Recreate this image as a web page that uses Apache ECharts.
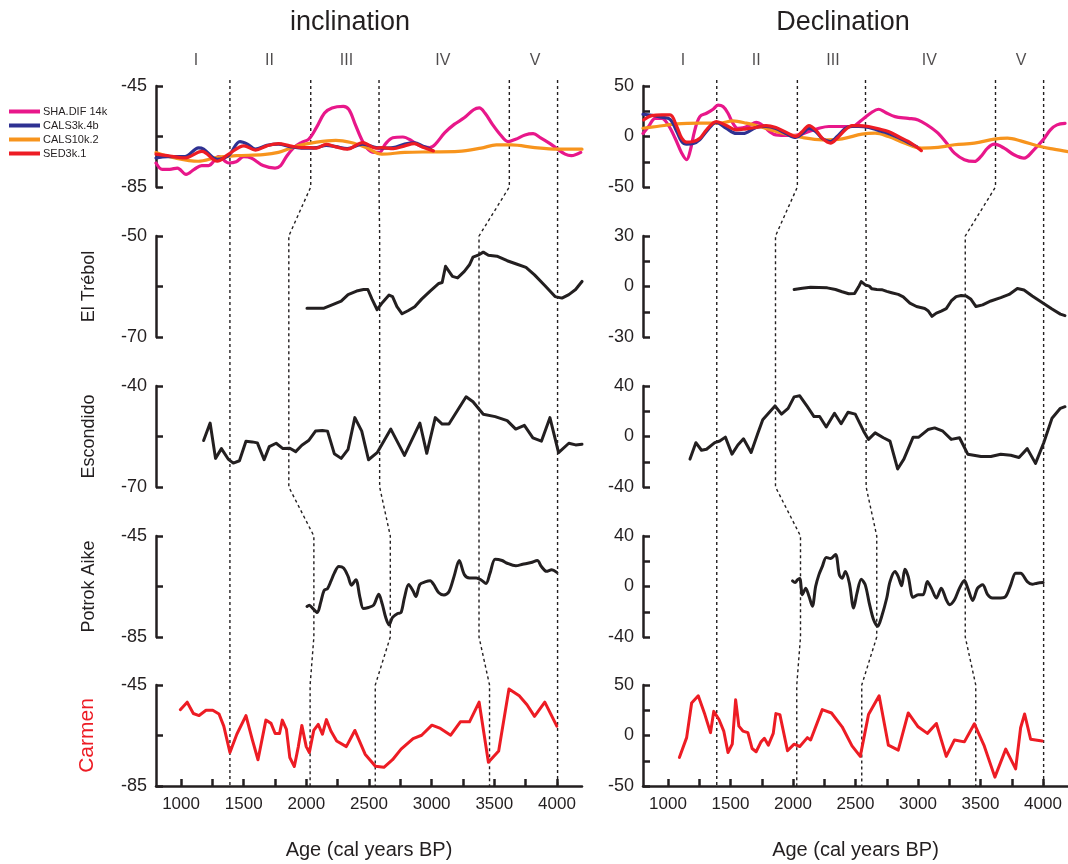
<!DOCTYPE html>
<html>
<head>
<meta charset="utf-8">
<script src="https://cdn.jsdelivr.net/npm/echarts@6/dist/echarts.min.js"></script>
<style>
  html, body { margin: 0; padding: 0; background: #ffffff; }
  #chart { width: 1068px; height: 864px; }
</style>
</head>
<body>
<div id="chart"></div>
<script>
// ---------- age axis ----------
const ageMin = 800, ageMax = 4200;
const ageTicks = [1000, 1250, 1500, 1750, 2000, 2250, 2500, 2750, 3000, 3250, 3500, 3750, 4000];
const ageLabels = [1000, 1500, 2000, 2500, 3000, 3500, 4000];

// ---------- geomagnetic field models (row 1) ----------
const modelNames = ['SHA.DIF 14k', 'CALS3k.4b', 'CALS10k.2', 'SED3k.1'];

const incSHA = [[800,-75.5],[850,-78],[910,-78],[970,-77.5],[1040,-80],[1105,-78],[1165,-76.5],[1220,-76.5],[1300,-73],[1380,-75.5],[1440,-75],[1500,-73],[1560,-73.5],[1655,-76.5],[1750,-77.5],[1795,-76.5],[1840,-73],[1900,-69.4],[1960,-67.4],[2020,-66],[2080,-61.5],[2145,-55.7],[2205,-53.7],[2295,-53.1],[2340,-54.4],[2390,-60.2],[2435,-65.5],[2480,-69.4],[2540,-71.3],[2585,-71.3],[2630,-68],[2690,-65.5],[2770,-65.2],[2845,-66.8],[2905,-68.7],[2985,-69.4],[3030,-68],[3105,-63.5],[3180,-60.2],[3260,-57.6],[3335,-54.4],[3380,-53.7],[3425,-55.7],[3485,-60.2],[3550,-64.4],[3610,-67],[3670,-66.1],[3745,-64.4],[3810,-63.9],[3870,-65.5],[3945,-67.8],[4005,-70],[4065,-72],[4115,-72.6],[4190,-71.3]];
const incCALS3k = [[800,-73.5],[892,-73],[1029,-73],[1140,-69.5],[1180,-70],[1289,-74],[1380,-72.5],[1470,-67],[1530,-68],[1594,-70],[1685,-68.5],[1777,-68],[1869,-69],[1960,-69.6],[2021,-69.6],[2082,-69.4],[2159,-68.5],[2235,-69],[2327,-69.8],[2449,-68],[2556,-69.4],[2602,-69.6],[2693,-69.4],[2785,-68],[2861,-67.5],[2937,-69],[2990,-70]];
const incCALS10k = [[800,-71.3],[953,-73.5],[1136,-74.8],[1289,-73.3],[1441,-72.6],[1655,-72.2],[1777,-71.3],[1930,-68.7],[2082,-67.2],[2235,-66.5],[2357,-67.4],[2479,-69.4],[2602,-72.0],[2785,-71.3],[2998,-71.1],[3212,-70.9],[3395,-69.6],[3517,-68.3],[3639,-68.3],[3823,-69.4],[4006,-70],[4200,-70]];
const incSED = [[800,-72],[892,-72.6],[1029,-73.5],[1166,-70.9],[1289,-74.8],[1380,-72],[1502,-68.7],[1594,-70.4],[1685,-68.7],[1777,-67.8],[1869,-68.7],[1960,-69.4],[2021,-69.4],[2082,-69.6],[2159,-68.1],[2235,-69.1],[2327,-70],[2449,-67.4],[2556,-69.6],[2602,-69.4],[2693,-69.8],[2785,-68.7],[2861,-67.8],[2937,-69.4],[3014,-70.7]];

const decSHA = [[800,3],[845,10],[898,18],[951,18],[1004,11],[1057,-1.7],[1110,-16.5],[1149,-23],[1176,-15],[1215,6.6],[1255,19.7],[1308,23],[1361,27],[1400,31],[1440,29.6],[1480,23],[1520,13],[1559,8],[1599,8.5],[1652,11],[1705,14],[1758,11],[1811,5],[1863,1.6],[1969,1],[2049,1.6],[2128,5],[2207,8.2],[2287,9.9],[2393,9.9],[2472,9.9],[2551,16.4],[2631,24],[2684,27],[2737,24],[2816,19.7],[2922,18],[3001,16.4],[3080,10.8],[3160,3.3],[3239,-8.2],[3292,-16.5],[3371,-23],[3451,-24.7],[3504,-19.7],[3557,-11.5],[3610,-7.6],[3689,-11.5],[3768,-18.1],[3848,-21.4],[3927,-13.2],[4001,-3.3],[4059,6.6],[4112,11.5],[4176,13]];
const decCALS3k = [[800,22],[871,21],[951,19],[1017,17],[1070,5],[1110,-5],[1149,-7.6],[1202,-7],[1255,-3],[1308,5],[1387,14],[1467,8],[1546,3],[1600,3],[1705,9],[1784,10],[1863,8],[1943,3],[2022,-1],[2075,3],[2128,8],[2181,5],[2234,-2],[2300,-5],[2353,0],[2419,8],[2472,10],[2525,10],[2605,9],[2684,6],[2763,3],[2843,-1],[2922,-6],[2990,-10]];
const decCALS10k = [[800,8.2],[911,9.9],[1070,12.5],[1255,13.2],[1414,13.2],[1520,15.5],[1626,13.2],[1758,8.9],[1917,3.3],[2075,-1],[2234,-3.3],[2393,-2.3],[2551,2.3],[2657,3.3],[2763,0],[2896,-6.6],[3027,-11.5],[3160,-10.8],[3292,-8.2],[3451,-6.6],[3610,-2.6],[3716,-1.7],[3821,-4.3],[3980,-9.9],[4085,-12.5],[4200,-15]];
const decSED = [[805,16.4],[871,20.7],[951,21.4],[1017,21.4],[1070,9.9],[1110,-1.7],[1149,-5.6],[1202,-5],[1255,-1.7],[1308,6.6],[1387,14.8],[1467,10.8],[1546,6.6],[1626,7.6],[1705,8.9],[1784,10.8],[1863,8.9],[1943,4.3],[2022,0],[2075,4.9],[2128,10.8],[2181,6.6],[2234,-1.7],[2300,-6.6],[2353,-1.7],[2419,6.6],[2472,10.8],[2525,10.8],[2605,9.9],[2684,7.6],[2763,4.9],[2843,0],[2922,-4.9],[3001,-11.5],[3027,-14]];

// ---------- lake records ----------
const incTrebol = [[2005,-64.3],[2141,-64.3],[2210,-63.6],[2278,-62.9],[2333,-61.6],[2401,-60.9],[2456,-60.6],[2491,-60.6],[2524,-62.5],[2565,-64.6],[2606,-63.2],[2660,-61.7],[2688,-62.0],[2723,-64.0],[2764,-65.4],[2811,-64.8],[2865,-64.0],[2920,-62.5],[2988,-60.9],[3057,-59.4],[3084,-59.2],[3111,-56.0],[3125,-55.7],[3166,-58.0],[3207,-58.3],[3261,-57.0],[3302,-55.7],[3330,-54.2],[3371,-53.8],[3412,-53.2],[3453,-53.8],[3521,-54.0],[3603,-54.9],[3671,-55.5],[3753,-56.2],[3821,-57.7],[3903,-59.8],[3985,-62.0],[4040,-62.3],[4095,-61.6],[4149,-60.6],[4200,-59]];
const decTrebol = [[2009,-1.8],[2075,-1.0],[2141,-0.4],[2207,-0.6],[2274,-0.8],[2340,-1.8],[2393,-3.1],[2446,-4.3],[2493,-4.1],[2525,-0.2],[2546,2.9],[2578,1.0],[2610,0.2],[2631,-1.4],[2670,-1.8],[2710,-1.9],[2750,-2.9],[2789,-3.7],[2842,-4.7],[2882,-6.2],[2935,-9.9],[2988,-11.9],[3054,-13.1],[3080,-14.4],[3112,-17.7],[3147,-15.8],[3186,-14.6],[3226,-13.1],[3266,-8.6],[3305,-6.0],[3345,-5.3],[3385,-5.6],[3424,-7.6],[3464,-11.9],[3517,-10.9],[3583,-8.6],[3662,-6.6],[3729,-4.7],[3795,-1.2],[3848,-2.1],[3914,-5.6],[3993,-9.5],[4072,-13.4],[4139,-16.4],[4176,-17.3]];

const incEscondido = [[1180,-56.2],[1232,-51.0],[1275,-61.5],[1322,-58.6],[1376,-61.7],[1417,-62.9],[1466,-62.2],[1518,-56.4],[1568,-56.6],[1609,-56.9],[1663,-61.9],[1704,-58.0],[1759,-57.0],[1813,-58.6],[1868,-58.5],[1915,-59.5],[1964,-57.6],[2018,-56.2],[2073,-53.4],[2128,-53.2],[2169,-53.4],[2223,-60.1],[2278,-61.5],[2333,-58.8],[2387,-49.4],[2442,-53.4],[2496,-61.9],[2565,-59.8],[2674,-52.8],[2783,-60.6],[2906,-51.0],[2961,-60.0],[3029,-49.4],[3084,-51.3],[3138,-51.3],[3275,-43.2],[3330,-44.7],[3412,-48.4],[3507,-49.1],[3603,-50.3],[3671,-52.8],[3740,-51.7],[3808,-55.4],[3876,-56.4],[3944,-49.4],[4013,-59.8],[4095,-57.0],[4149,-57.5],[4200,-57.3]];
const decEscondido = [[1176,-17.9],[1223,-4.9],[1268,-10.9],[1308,-10.1],[1374,-4.9],[1414,-3.6],[1459,-0.5],[1512,-14.0],[1559,-6.7],[1604,-1.8],[1665,-12.7],[1718,2.3],[1758,13.3],[1811,19.2],[1856,24.2],[1908,17.7],[1961,22.3],[2009,31.4],[2054,32.2],[2115,23.6],[2168,15.8],[2213,15.8],[2266,7.5],[2332,18.4],[2385,10.1],[2440,19.2],[2498,17.7],[2565,4.2],[2604,-2.3],[2657,2.9],[2723,-1.0],[2776,-3.6],[2837,-25.7],[2887,-17.9],[2961,-0.5],[3006,-0.5],[3080,5.5],[3133,6.8],[3199,4.2],[3266,-2.3],[3332,-1.0],[3398,-14.0],[3504,-15.8],[3583,-15.8],[3662,-14.0],[3742,-14.8],[3808,-16.6],[3874,-9.6],[3940,-21.3],[4006,-4.9],[4072,14.5],[4139,22.3],[4176,23.6]];

const incPotrok = [[2005,-72.9],[2024,-72.4],[2051,-73.7],[2087,-75.3],[2114,-71.4],[2141,-66.6],[2169,-65.8],[2196,-62.9],[2223,-59.7],[2259,-57.1],[2297,-57.7],[2333,-61.0],[2360,-64.5],[2395,-62.3],[2428,-69.4],[2455,-73.7],[2496,-73.3],[2537,-72.4],[2578,-68.1],[2606,-72.0],[2633,-77.2],[2660,-80.2],[2688,-77.2],[2729,-75.7],[2756,-75.3],[2783,-69.4],[2816,-64.2],[2852,-66.8],[2874,-69.0],[2906,-64.2],[2947,-63.2],[2988,-62.7],[3016,-64.2],[3057,-67.5],[3098,-68.4],[3138,-67.1],[3179,-61.0],[3220,-54.7],[3261,-60.3],[3302,-61.6],[3357,-61.6],[3398,-62.5],[3434,-63.8],[3466,-59.7],[3507,-54.2],[3562,-54.7],[3603,-55.8],[3671,-56.8],[3726,-56.2],[3794,-55.5],[3843,-54.7],[3876,-57.1],[3917,-59.0],[3958,-58.4],[3999,-59.4]];
const decPotrok = [[1996,4.4],[2017,3.1],[2035,5.2],[2054,6.3],[2075,-6.5],[2102,-1.3],[2128,-7.8],[2155,-15.7],[2181,0.0],[2207,9.2],[2234,15.7],[2266,23.0],[2300,22.2],[2340,25.4],[2371,9.2],[2393,6.5],[2419,11.8],[2451,2.6],[2485,-17.0],[2512,-5.2],[2546,5.8],[2578,1.3],[2610,-13.1],[2644,-26.1],[2678,-31.4],[2710,-23.5],[2750,-9.1],[2776,3.9],[2816,11.8],[2842,7.8],[2869,0.5],[2895,13.6],[2922,7.8],[2961,-8.6],[3001,-6.5],[3041,-6.5],[3075,3.9],[3107,-1.3],[3147,-9.1],[3186,-1.3],[3226,-10.5],[3252,-14.4],[3292,-10.5],[3332,-1.3],[3371,4.7],[3398,-1.3],[3438,-11.0],[3477,-1.3],[3517,1.3],[3557,-6.5],[3596,-9.1],[3662,-9.1],[3702,-7.8],[3742,1.3],[3781,10.5],[3821,10.5],[3874,3.9],[3914,1.8],[3953,2.6],[4001,3.1]];

const incCarmen = [[994,-54.8],[1049,-51.8],[1098,-56.3],[1144,-57.1],[1199,-55.0],[1253,-55.0],[1303,-56.5],[1341,-61.3],[1390,-71.7],[1445,-64.5],[1518,-57.1],[1568,-66.5],[1614,-74.6],[1677,-58.9],[1718,-60.2],[1751,-64.2],[1786,-64.2],[1808,-58.9],[1841,-62.6],[1868,-73.7],[1904,-77.3],[1936,-69.4],[1964,-61.0],[1999,-69.4],[2024,-71.7],[2059,-63.0],[2095,-60.6],[2128,-64.5],[2160,-58.7],[2196,-63.2],[2242,-67.2],[2319,-69.4],[2387,-63.0],[2469,-72.4],[2551,-77.2],[2619,-77.6],[2688,-74.6],[2756,-70.4],[2852,-66.2],[2920,-64.9],[3002,-60.9],[3070,-62.2],[3152,-64.9],[3229,-59.6],[3302,-59.6],[3379,-51.8],[3453,-75.6],[3535,-71.1],[3617,-46.6],[3699,-49.3],[3761,-52.8],[3821,-57.4],[3903,-51.8],[3999,-61.3]];
const decCarmen = [[1091,-21.7],[1149,-2.1],[1189,32.1],[1242,39.3],[1295,20.7],[1340,2.8],[1366,23.9],[1408,15.8],[1446,4.4],[1480,-16.8],[1514,-8.6],[1541,35.3],[1567,9.3],[1599,4.4],[1639,2.8],[1673,-12.9],[1705,-16.1],[1744,-6.3],[1771,-2.8],[1803,-9.6],[1842,2.1],[1863,21.7],[1895,20.7],[1956,-15.1],[2009,-8.6],[2054,-10.9],[2115,-2.1],[2141,-4.4],[2234,25.6],[2308,22.3],[2393,8.6],[2472,-10.3],[2538,-20.7],[2604,20.7],[2689,39.3],[2763,-9.6],[2842,-14.5],[2922,22.3],[3001,8.6],[3075,2.1],[3147,11.9],[3226,-20.7],[3292,-4.4],[3371,-6.3],[3451,11.6],[3530,-10.3],[3615,-41.2],[3702,-13.5],[3781,-33.1],[3821,7.7],[3853,21.3],[3901,-3.7],[3993,-5.4]];

// ---------- per-row axis settings ----------
const rowNames = ['', 'El Trébol', 'Escondido', 'Potrok Aike', 'Carmen'];
const incRanges = [[-85,-45],[-70,-50],[-70,-40],[-85,-45],[-85,-45]];
const incTicks  = [[-85,-65,-45],[-70,-60,-50],[-70,-55,-40],[-85,-65,-45],[-85,-65,-45]];
const incLabels = [[-85,-45],[-70,-50],[-70,-40],[-85,-45],[-85,-45]];
const decRanges = [[-50,50],[-30,30],[-40,40],[-40,40],[-50,50]];
const decTicks  = [[-50,-25,0,25,50],[-30,-15,0,15,30],[-40,-20,0,20,40],[-40,-20,0,20,40],[-50,-25,0,25,50]];
const decLabels = [[-50,0,50],[-30,0,30],[-40,0,40],[-40,0,40],[-50,0,50]];

// ---------- correlation tie points (age of each tie in rows 1..5) ----------
const tieAges = [
  [1390, 1390, 1390, 1390, 1390],
  [2035, 1860, 1860, 2060, 2030],
  [2580, 2585, 2585, 2670, 2550],
  [3620, 3378, 3378, 3378, 3462],
  [4005, 4005, 4005, 4005, 4005]
];
const zoneNames = ['I', 'II', 'III', 'IV', 'V'];
const zoneAges = [1120, 1705, 2320, 3090, 3825];

// ---------- styling / layout ----------
const FONT = '"Liberation Sans", Arial, Helvetica, sans-serif';
const INK = '#231f20';
const RED = '#ed1c24';
const modelColors = { 'SHA.DIF 14k': '#e8178a', 'CALS3k.4b': '#2e3192', 'CALS10k.2': '#f7941d', 'SED3k.1': '#ed1c24' };
const ROW_TOP = [86, 236, 386, 536, 685];
const ROW_H = 101;
const COL_LEFT = [156, 643];
const COL_W = 426;
const PAGE_H = 864;
const plain = v => String(v);

const grids = [], xAxes = [], yAxes = [], series = [];

function addPanel(col, row, range, ticks, labels, name) {
  const idx = grids.length;
  grids.push({ left: COL_LEFT[col], top: ROW_TOP[row], width: COL_W, height: ROW_H, containLabel: false });
  const bottom = row === 4;
  xAxes.push({
    gridIndex: idx, type: 'value', min: ageMin, max: ageMax, show: bottom,
    name: bottom ? 'Age (cal years BP)' : '', nameLocation: 'middle', nameGap: 54,
    nameTextStyle: { fontFamily: FONT, fontSize: 20, color: INK },
    axisLine: { show: true, onZero: false, lineStyle: { color: INK, width: 2.5 } },
    axisTick: { show: true, inside: true, length: 7, customValues: ageTicks, lineStyle: { color: INK, width: 2.5 } },
    axisLabel: { show: true, customValues: ageLabels, formatter: plain, fontFamily: FONT, fontSize: 17, color: INK, margin: 10 },
    splitLine: { show: false }
  });
  const isCarmen = name === 'Carmen';
  yAxes.push({
    gridIndex: idx, type: 'value', min: range[0], max: range[1],
    name: name, nameLocation: 'middle', nameRotate: 90, nameGap: 58,
    nameTextStyle: { fontFamily: FONT, fontSize: isCarmen ? 21 : 18, color: isCarmen ? RED : INK },
    axisLine: { show: true, onZero: false, lineStyle: { color: INK, width: 2.5 } },
    axisTick: { show: true, inside: true, length: 7, customValues: ticks, lineStyle: { color: INK, width: 2.5 } },
    axisLabel: { show: true, customValues: labels, formatter: plain, fontFamily: FONT, fontSize: 18, color: INK, margin: 9 },
    splitLine: { show: false }
  });
  return idx;
}

function addLine(idx, data, color, opts) {
  series.push(Object.assign({
    type: 'line', xAxisIndex: idx, yAxisIndex: idx, data: data,
    symbol: 'none', silent: true, z: 3,
    itemStyle: { color: color },
    lineStyle: { color: color, width: 3, cap: 'round', join: 'round' }
  }, opts || {}));
}

// Inclination column (0) and declination column (1)
const incRecords = [null, incTrebol, incEscondido, incPotrok, incCarmen];
const decRecords = [null, decTrebol, decEscondido, decPotrok, decCarmen];
const incModels = { 'SHA.DIF 14k': incSHA, 'CALS10k.2': incCALS10k, 'CALS3k.4b': incCALS3k, 'SED3k.1': incSED };
const decModels = { 'SHA.DIF 14k': decSHA, 'CALS10k.2': decCALS10k, 'CALS3k.4b': decCALS3k, 'SED3k.1': decSED };

[[incRanges, incTicks, incLabels, incRecords, incModels], [decRanges, decTicks, decLabels, decRecords, decModels]]
  .forEach(([ranges, ticks, labels, records, models], col) => {
    for (let r = 0; r < 5; r++) {
      const idx = addPanel(col, r, ranges[r], ticks[r], labels[r], col === 0 ? rowNames[r] : '');
      if (r === 0) {
        Object.keys(models).forEach(nm => {
          addLine(idx, models[nm], modelColors[nm], {
            name: nm, smooth: 0.35,
            lineStyle: { color: modelColors[nm], width: 3.2, cap: 'round', join: 'round' }
          });
        });
      } else {
        const color = r === 4 ? RED : INK;
        addLine(idx, records[r], color, r === 3 ? { smooth: 0.3 } : {});
      }
    }
  });

// Full-height overlay per column for the dashed tie lines and zone numerals
[0, 1].forEach(col => {
  const idx = grids.length;
  grids.push({ left: COL_LEFT[col], top: 0, width: COL_W, height: PAGE_H });
  xAxes.push({ gridIndex: idx, type: 'value', min: ageMin, max: ageMax, show: false });
  yAxes.push({ gridIndex: idx, type: 'value', min: 0, max: PAGE_H, inverse: true, show: false });
  tieAges.forEach(ages => {
    const pts = [[ages[0], 80]];
    ages.forEach((a, r) => {
      if (r > 0) pts.push([a, ROW_TOP[r]]);
      pts.push([a, ROW_TOP[r] + ROW_H]);
    });
    series.push({
      type: 'line', xAxisIndex: idx, yAxisIndex: idx, data: pts, symbol: 'none', silent: true, z: 1,
      lineStyle: { color: INK, width: 1.4, type: [3, 3] }
    });
  });
  series.push({
    type: 'scatter', xAxisIndex: idx, yAxisIndex: idx, silent: true, symbolSize: 1,
    itemStyle: { color: 'rgba(0,0,0,0)' },
    data: zoneNames.map((z, i) => ({ name: z, value: [zoneAges[i], 61] })),
    label: { show: true, position: 'inside', formatter: '{b}', fontFamily: FONT, fontSize: 16, color: INK }
  });
});

const chart = echarts.init(document.getElementById('chart'), null, { renderer: 'canvas' });
chart.setOption({
  animation: false,
  backgroundColor: '#ffffff',
  title: [
    { text: 'inclination', left: 350, top: 9, textAlign: 'center', padding: 0,
      textStyle: { fontFamily: FONT, fontSize: 27, fontWeight: 'normal', color: INK } },
    { text: 'Declination', left: 843, top: 9, textAlign: 'center', padding: 0,
      textStyle: { fontFamily: FONT, fontSize: 27, fontWeight: 'normal', color: INK } }
  ],
  legend: {
    data: modelNames, orient: 'vertical', left: 9, top: 106, itemWidth: 31, itemHeight: 4, itemGap: 3,
    icon: 'rect', selectedMode: false, padding: 0,
    textStyle: { fontFamily: FONT, fontSize: 11, color: INK, padding: [0, 0, 0, -2] }
  },
  grid: grids, xAxis: xAxes, yAxis: yAxes, series: series
});
</script>
</body>
</html>
